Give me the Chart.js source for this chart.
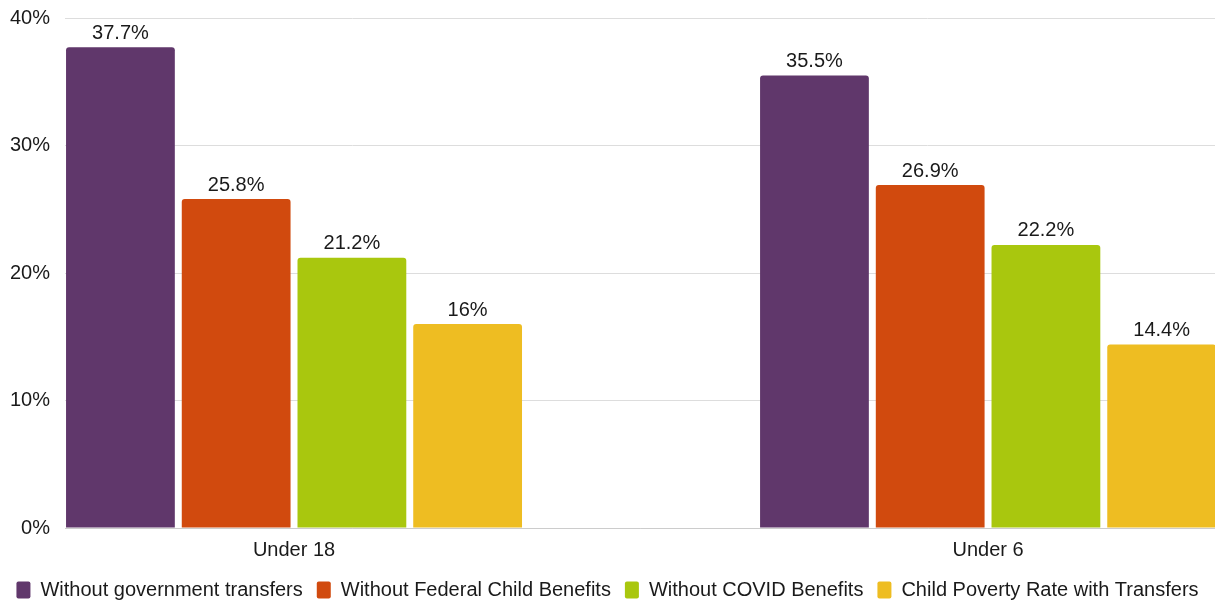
<!DOCTYPE html>
<html>
<head>
<meta charset="utf-8">
<script src="https://cdn.jsdelivr.net/npm/chart.js@4/dist/chart.umd.min.js"></script>
<style>
  body { margin: 0; background: #fff; }
  #wrap { width: 1215px; height: 603px; }
</style>
</head>
<body>
<div id="wrap"><canvas id="pobreza" width="1215" height="603"></canvas></div>
<script>
// categorias y series
var grupos = ["Under 18", "Under 6"];
var sinTransferencias = [37.7, 35.5];
var sinFederal = [25.8, 26.9];
var sinCovid = [21.2, 22.2];
var conTransferencias = [16, 14.4];
var etiquetasY = [0, 10, 20, 30, 40];

var series = [
    { label: "Without government transfers", data: sinTransferencias, color: "#60376B" },
    { label: "Without Federal Child Benefits", data: sinFederal, color: "#D14A0E" },
    { label: "Without COVID Benefits", data: sinCovid, color: "#A9C70E" },
    { label: "Child Poverty Rate with Transfers", data: conTransferencias, color: "#EEBD22" }
];

var fuente = "'Liberation Sans', Arial, Helvetica, sans-serif";

// etiquetas encima de las barras
var etiquetasBarras = {
    id: 'etiquetasBarras',
    afterDatasetsDraw: function(chart) {
        var ctx = chart.ctx;
        ctx.save();
        ctx.font = "20px " + fuente;
        ctx.fillStyle = "#1a1a1a";
        ctx.textAlign = "center";
        ctx.textBaseline = "middle";
        chart.data.datasets.forEach(function(ds, i) {
            chart.getDatasetMeta(i).data.forEach(function(bar, j) {
                ctx.fillText(ds.data[j].y + "%", bar.x, bar.y - 14);
            });
        });
        ctx.restore();
    }
};

var ctxPobreza = document.getElementById("pobreza");
var grafica = new Chart(ctxPobreza, {
    type: 'bar',
    data: {
        datasets: series.map(function(s) {
            return {
                label: s.label,
                data: s.data.map(function(v, k) { return { x: k, y: v }; }),
                backgroundColor: s.color,
                borderColor: s.color,
                borderWidth: 0,
                borderRadius: { topLeft: 3, topRight: 3 },
                borderSkipped: 'start',
                categoryPercentage: 0.667,
                barPercentage: 0.94
            };
        })
    },
    options: {
        responsive: false,
        animation: false,
        layout: { padding: { top: 0, right: 0, left: 0, bottom: -7 } },
        plugins: {
            tooltip: { enabled: false },
            legend: {
                position: 'bottom',
                labels: {
                    font: { family: fuente, size: 20 },
                    color: "#1a1a1a",
                    boxWidth: 14,
                    boxHeight: 17,
                    padding: 14,
                    useBorderRadius: true,
                    borderRadius: 2
                }
            }
        },
        scales: {
            x: {
                type: 'linear',
                min: -0.3300,
                max: 1.3270,
                offset: false,
                grid: { display: false, drawTicks: false },
                border: { display: true, color: "#cccccc" },
                afterFit: function(escala) {
                    escala.height = 38;
                },
                ticks: {
                    stepSize: 1,
                    includeBounds: false,
                    autoSkip: false,
                    maxRotation: 0,
                    padding: 10,
                    font: { family: fuente, size: 20 },
                    color: "#1a1a1a",
                    callback: function(v) {
                        return Number.isInteger(v) && grupos[v] !== undefined ? grupos[v] : '';
                    }
                }
            },
            y: {
                min: etiquetasY[0],
                max: etiquetasY[etiquetasY.length - 1],
                grid: { color: "#dddddd", drawTicks: false },
                border: { display: false },
                afterFit: function(escala) {
                    escala.width = 65;
                    escala.paddingTop = 18;
                    escala.paddingBottom = 0;
                },
                ticks: {
                    stepSize: 10,
                    padding: 15,
                    font: { family: fuente, size: 20 },
                    color: "#1a1a1a",
                    callback: function(v) { return v + "%"; }
                }
            }
        }
    },
    plugins: [etiquetasBarras]
});
</script>
</body>
</html>
